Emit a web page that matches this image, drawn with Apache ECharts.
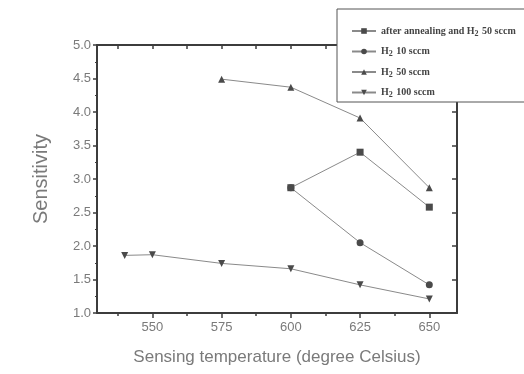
<!DOCTYPE html>
<html>
<head>
<meta charset="utf-8">
<script src="https://cdn.jsdelivr.net/npm/echarts@6/dist/echarts.min.js"></script>
<style>
  html, body { margin: 0; padding: 0; background: #fff; }
  #chart { width: 524px; height: 374px; }
</style>
</head>
<body>
<div id="chart"></div>
<script>
// values
const seriesNames = ['after annealing and H2 50 sccm', 'H2 10 sccm', 'H2 50 sccm', 'H2 100 sccm'];
const annealTemps = [600, 625, 650];
const annealVals = [2.87, 3.40, 2.58];
const h10Temps = [600, 625, 650];
const h10Vals = [2.87, 2.05, 1.42];
const h50Temps = [575, 600, 625, 650];
const h50Vals = [4.49, 4.37, 3.91, 2.87];
const h100Temps = [540, 550, 575, 600, 625, 650];
const h100Vals = [1.86, 1.87, 1.74, 1.66, 1.42, 1.21];
const majorTicks = [550, 575, 600, 625, 650];
const minorTicks = [537.5, 562.5, 587.5, 612.5, 637.5];
const allTicks = [537.5, 550, 562.5, 575, 587.5, 600, 612.5, 625, 637.5, 650];

const pairs = (xs, ys) => xs.map((x, i) => [x, ys[i]]);

const chart = echarts.init(document.getElementById('chart'));
const axisCol = '#3c3c3c';
const labelCol = '#7a7a7a';
const lineCol = '#8a8a8a';
const markCol = '#4a4a4a';

function mkSeries(name, data, symbol, rotate) {
  return {
    name: name,
    type: 'line',
    data: data,
    symbol: symbol,
    symbolSize: 7,
    symbolRotate: rotate || 0,
    lineStyle: { color: lineCol, width: 1 },
    itemStyle: { color: markCol },
    z: 3
  };
}

const xBase = { type: 'value', min: 530, max: 660, splitLine: { show: false } };

const option = {
  backgroundColor: '#fff',
  animation: false,
  grid: { left: 97, right: 67, top: 45, bottom: 61 },
  legend: {
    left: 337,
    top: 9,
    orient: 'vertical',
    backgroundColor: '#fff',
    borderColor: '#555',
    borderWidth: 1,
    padding: [17, 12, 3, 14],
    itemWidth: 24,
    itemHeight: 7,
    itemGap: 9,
    z: 10,
    data: seriesNames,
    formatter: n => n.replace('H2', '{a|H}{s|2}'),
    textStyle: {
      fontFamily: 'Liberation Serif',
      fontWeight: 'bold',
      fontSize: 10,
      color: '#444',
      rich: {
        a: { fontFamily: 'Liberation Serif', fontWeight: 'bold', fontSize: 10, color: '#444' },
        s: { fontFamily: 'Liberation Serif', fontWeight: 'bold', fontSize: 8, color: '#444', verticalAlign: 'bottom', padding: [5, 1, 0, 0] }
      }
    }
  },
  xAxis: [
    Object.assign({}, xBase, {
      position: 'bottom',
      name: 'Sensing temperature (degree Celsius)',
      nameLocation: 'middle',
      nameGap: 36,
      nameTextStyle: { fontFamily: 'Liberation Sans', fontSize: 17, color: labelCol },
      axisLine: { lineStyle: { color: axisCol, width: 2 } },
      axisTick: { length: 5, customValues: majorTicks, lineStyle: { color: axisCol, width: 1.5 } },
      axisLabel: { customValues: majorTicks, fontFamily: 'Liberation Sans', fontSize: 13, color: labelCol, margin: 8 }
    }),
    Object.assign({}, xBase, {
      position: 'bottom',
      axisLine: { show: false },
      axisTick: { length: 3, customValues: minorTicks, lineStyle: { color: axisCol, width: 1.5 } },
      axisLabel: { show: false }
    }),
    Object.assign({}, xBase, {
      position: 'top',
      axisLine: { lineStyle: { color: axisCol, width: 2 } },
      axisTick: { inside: true, length: 4, customValues: allTicks, lineStyle: { color: axisCol, width: 1.5 } },
      axisLabel: { show: false }
    })
  ],
  yAxis: [
    {
      type: 'value', min: 1, max: 5, interval: 0.5,
      position: 'left',
      name: 'Sensitivity',
      nameLocation: 'middle',
      nameGap: 46,
      nameTextStyle: { fontFamily: 'Liberation Sans', fontSize: 20, color: labelCol },
      splitLine: { show: false },
      axisLine: { show: true, lineStyle: { color: axisCol, width: 2 } },
      axisTick: { show: true, length: 4, lineStyle: { color: axisCol, width: 1.5 } },
      minorTick: { show: true, splitNumber: 2, length: 2, lineStyle: { color: axisCol } },
      axisLabel: { formatter: v => v.toFixed(1), fontFamily: 'Liberation Sans', fontSize: 13, color: labelCol, margin: 6 }
    },
    {
      type: 'value', min: 1, max: 5, interval: 0.5,
      position: 'right',
      splitLine: { show: false },
      axisLine: { show: true, lineStyle: { color: axisCol, width: 2 } },
      axisTick: { show: true, inside: true, length: 5, lineStyle: { color: axisCol, width: 1.5 } },
      axisLabel: { show: false }
    }
  ],
  series: [
    mkSeries(seriesNames[0], pairs(annealTemps, annealVals), 'rect'),
    mkSeries(seriesNames[1], pairs(h10Temps, h10Vals), 'circle'),
    mkSeries(seriesNames[2], pairs(h50Temps, h50Vals), 'triangle'),
    mkSeries(seriesNames[3], pairs(h100Temps, h100Vals), 'triangle', 180)
  ]
};

chart.setOption(option);
</script>
</body>
</html>
